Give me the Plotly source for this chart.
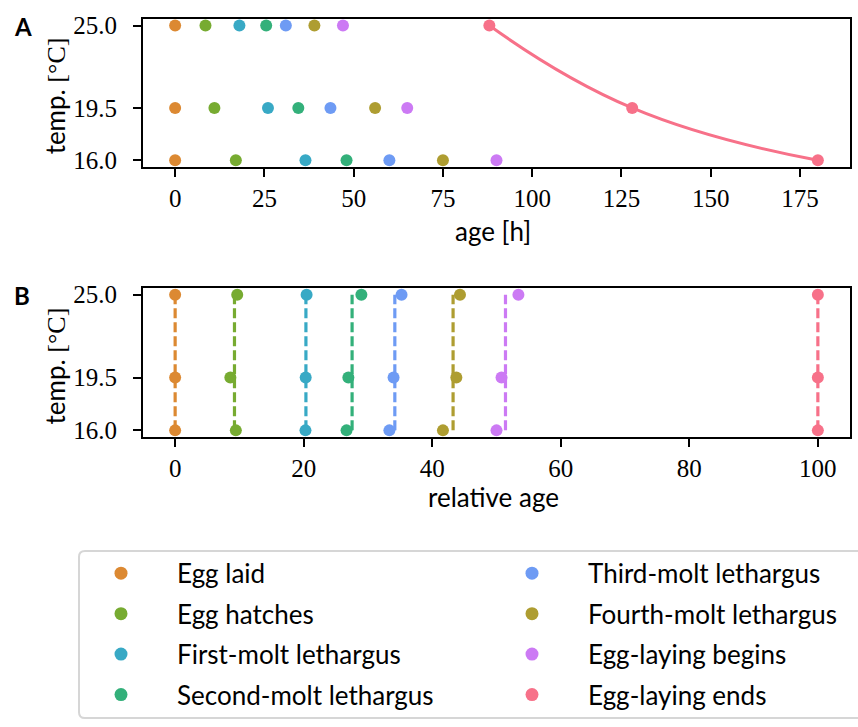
import plotly.graph_objects as go

W, H = 858, 727

# Developmental stages and their colours
stages = [
    "Egg laid",
    "Egg hatches",
    "First-molt lethargus",
    "Second-molt lethargus",
    "Third-molt lethargus",
    "Fourth-molt lethargus",
    "Egg-laying begins",
    "Egg-laying ends",
]
colors = ["#dc8932", "#77ab31", "#38a9c5", "#33b07a",
          "#6e9bf4", "#ae9d31", "#cc7af4", "#f77189"]

# Rearing temperatures [°C]
temperatures = [16.0, 19.5, 25.0]

# Age [h] at which each stage is reached, one list per temperature
age_16 = [0, 17, 36.5, 48, 60, 75, 90, 180]
age_19_5 = [0, 11, 26, 34.5, 43.5, 56, 65, 128]
age_25 = [0, 8.5, 18, 25.5, 31, 39, 47, 88]
ages_by_temp = [age_16, age_19_5, age_25]

age_ticks = [0, 25, 50, 75, 100, 125, 150, 175]
rel_ticks = [0, 20, 40, 60, 80, 100]

SERIF = "Liberation Serif"
SANS = "Lato"


def px(x):
    return x / W


def py(y):
    return 1 - y / H


# relative age: percentage of the time until egg-laying ends
end_ages = [a[-1] for a in ages_by_temp]
rel_by_temp = [[v / end * 100 for v in a] for a, end in zip(ages_by_temp, end_ages)]

fig = go.Figure()

# Panel A: absolute age
for i, (name, color) in enumerate(zip(stages, colors)):
    xs = [a[i] for a in ages_by_temp]
    last = i == len(stages) - 1
    fig.add_trace(go.Scatter(
        x=xs, y=temperatures, name=name,
        mode="lines+markers" if last else "markers",
        line=dict(color=color, width=3, shape="spline", smoothing=1.3),
        marker=dict(size=12, color=color),
        xaxis="x", yaxis="y", showlegend=False, cliponaxis=False,
    ))

# Panel B: relative age, dashed line at the mean over temperatures
for i, (name, color) in enumerate(zip(stages, colors)):
    xs = [r[i] for r in rel_by_temp]
    mean = sum(xs) / len(xs)
    fig.add_trace(go.Scatter(
        x=[mean, mean], y=[min(temperatures), max(temperatures)],
        mode="lines", line=dict(color=color, width=3.2, dash="10px,4px"),
        xaxis="x2", yaxis="y2", showlegend=False, hoverinfo="skip",
    ))
for i, (name, color) in enumerate(zip(stages, colors)):
    xs = [r[i] for r in rel_by_temp]
    fig.add_trace(go.Scatter(
        x=xs, y=temperatures, name=name, mode="markers",
        marker=dict(size=12, color=color),
        xaxis="x2", yaxis="y2", showlegend=False, cliponaxis=False,
    ))

# Legend: two columns, filled column by column
n_rows = 4
cols = [i // n_rows for i in range(len(stages))]
rows = [i % n_rows for i in range(len(stages))]
fig.add_trace(go.Scatter(
    x=cols, y=rows, mode="markers",
    marker=dict(size=13, color=colors),
    xaxis="x3", yaxis="y3", showlegend=False, hoverinfo="skip",
))
col_step = 411.0   # px between legend columns
row_step = 41.2    # px between legend rows
text_offset = 54.0 / col_step
annotations = []
for name, c, r in zip(stages, cols, rows):
    annotations.append(dict(
        x=c + text_offset, y=r, xref="x3", yref="y3",
        text=name, showarrow=False, xanchor="left", yanchor="middle",
        font=dict(family=SANS, size=26, color="black"),
    ))

# rounded legend frame, running past the right and bottom edges
L, T, R, B, rad = 79, 555, 880, 725, 6
frame = (
    f"M {px(L + rad)} {py(T)} L {px(R)} {py(T)} L {px(R)} {py(B)} "
    f"L {px(L + rad)} {py(B)} Q {px(L)} {py(B)} {px(L)} {py(B - rad)} "
    f"L {px(L)} {py(T + rad)} Q {px(L)} {py(T)} {px(L + rad)} {py(T)} Z"
)
shapes = [dict(type="path", path=frame, xref="paper", yref="paper",
               line=dict(color="#d6d6d6", width=2),
               fillcolor="rgba(0,0,0,0)", layer="above")]

# axis titles and panel letters
label_font = dict(family=SANS, size=26, color="black")
ytitle = f'temp. <span style="font-family:{SERIF}">[°C]</span>'
annotations += [
    dict(x=px(55), y=py(91), xref="paper", yref="paper", text=ytitle,
         textangle=-90, showarrow=False, xanchor="center", yanchor="middle",
         font=label_font),
    dict(x=px(55), y=py(366), xref="paper", yref="paper", text=ytitle,
         textangle=-90, showarrow=False, xanchor="center", yanchor="middle",
         font=label_font),
    dict(x=px(493), y=py(229), xref="paper", yref="paper", text="age [h]",
         showarrow=False, xanchor="center", yanchor="middle", font=label_font),
    dict(x=px(493), y=py(500), xref="paper", yref="paper", text="relative age",
         showarrow=False, xanchor="center", yanchor="middle", font=label_font),
    dict(x=px(12), y=py(20.5), xref="paper", yref="paper", text="<b>A</b>",
         showarrow=False, xanchor="left", yanchor="middle",
         font=dict(family=SANS, size=24, color="black")),
    dict(x=px(12), y=py(294.5), xref="paper", yref="paper", text="<b>B</b>",
         showarrow=False, xanchor="left", yanchor="middle",
         font=dict(family=SANS, size=24, color="black")),
]

axis_style = dict(
    showline=True, linecolor="black", linewidth=2, mirror=True,
    ticks="outside", ticklen=8, tickwidth=2, tickcolor="black",
    showgrid=False, zeroline=False,
    tickfont=dict(family=SERIF, size=25, color="black"),
)
x_style = dict(axis_style, ticklabelstandoff=0)
y_style = dict(axis_style, ticklabelstandoff=11)
temp_range = [15.55, 25.45]

fig.update_layout(
    width=W, height=H,
    margin=dict(l=0, r=0, t=0, b=0),
    paper_bgcolor="white", plot_bgcolor="white",
    showlegend=False,
    xaxis=dict(domain=[px(143), px(850)], range=[-9, 189],
               tickvals=age_ticks, anchor="y", **x_style),
    yaxis=dict(domain=[py(164), py(13)], range=temp_range,
               tickvals=temperatures, tickformat=".1f", anchor="x", **y_style),
    xaxis2=dict(domain=[px(143), px(850)], range=[-5, 105],
                tickvals=rel_ticks, anchor="y2", **x_style),
    yaxis2=dict(domain=[py(439), py(287)], range=temp_range,
                tickvals=temperatures, tickformat=".1f", anchor="x2", **y_style),
    xaxis3=dict(domain=[0, 1], range=[-121 / col_step, (W - 121) / col_step],
                visible=False, fixedrange=True, anchor="y3"),
    yaxis3=dict(domain=[0, py(555)],
                range=[(H - 555 - 22.5) / row_step, -22.5 / row_step],
                visible=False, fixedrange=True, anchor="x3"),
    annotations=annotations,
    shapes=shapes,
)

fig.write_html("out.html")
